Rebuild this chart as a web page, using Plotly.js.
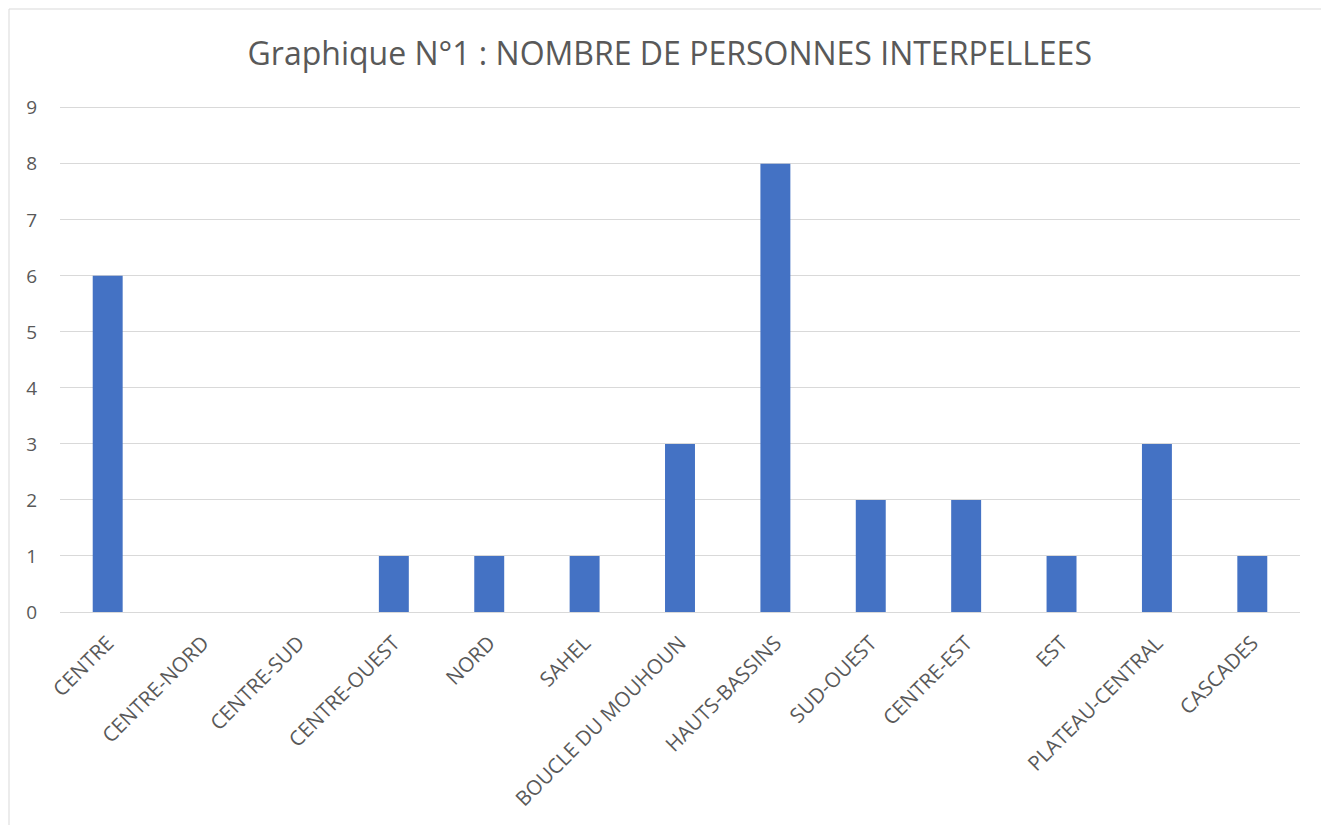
<!DOCTYPE html>
<html>
<head>
<meta charset="utf-8">
<script src="https://cdn.plot.ly/plotly-3.0.1.min.js"></script>
<style>html,body{margin:0;padding:0;background:#fff;}#chart{width:1321px;height:825px;}</style>
</head>
<body>
<div id="chart"></div>
<script>
const categories = ["CENTRE","CENTRE-NORD","CENTRE-SUD","CENTRE-OUEST","NORD","SAHEL","BOUCLE DU MOUHOUN","HAUTS-BASSINS","SUD-OUEST","CENTRE-EST","EST","PLATEAU-CENTRAL","CASCADES"];
const values = [6,0,0,1,1,1,3,8,2,2,1,3,1];
const yTicks = [0,1,2,3,4,5,6,7,8,9];
const titleText = "Graphique N°1 : NOMBRE DE PERSONNES INTERPELLEES";

const trace = {
  type: "bar",
  x: categories,
  y: values,
  marker: {color: "#4472C4"},
  hoverinfo: "x+y"
};
const layout = {
  width: 1321, height: 825,
  margin: {l: 60, r: 21, t: 105, b: 213},
  paper_bgcolor: "#fff", plot_bgcolor: "#fff",
  bargap: 0.686,
  title: {text: titleText, x: 0.507, xanchor: "center", y: 0.935, yanchor: "middle",
          font: {family: "Open Sans, sans-serif", size: 32, color: "#595959"}},
  font: {family: "Open Sans, sans-serif", color: "#595959"},
  xaxis: {tickangle: -45, tickfont: {size: 20.5, color: "#595959"}, showline: false,
          ticks: "outside", ticklen: 10, tickcolor: "rgba(0,0,0,0)", showgrid: false},
  yaxis: {range: [0, 9.05], tickvals: yTicks, ticktext: yTicks.map(String), showgrid: true, gridcolor: "#d9d9d9", gridwidth: 1,
          zeroline: true, zerolinecolor: "#d9d9d9", zerolinewidth: 1, ticks: "", ticklabelstandoff: 22,
          tickfont: {size: 19, color: "#595959"}, showline: false},
  shapes: [{type: "rect", xref: "paper", yref: "paper", x0: (9-60)/1240, x1: 1.2, y0: -1, y1: (612-9)/(612-105),
            line: {color: "#d9d9d9", width: 1}, fillcolor: "rgba(0,0,0,0)", layer: "below"}],
  showlegend: false
};
Plotly.newPlot("chart", [trace], layout, {displayModeBar: false, staticPlot: true});
</script>
</body>
</html>
